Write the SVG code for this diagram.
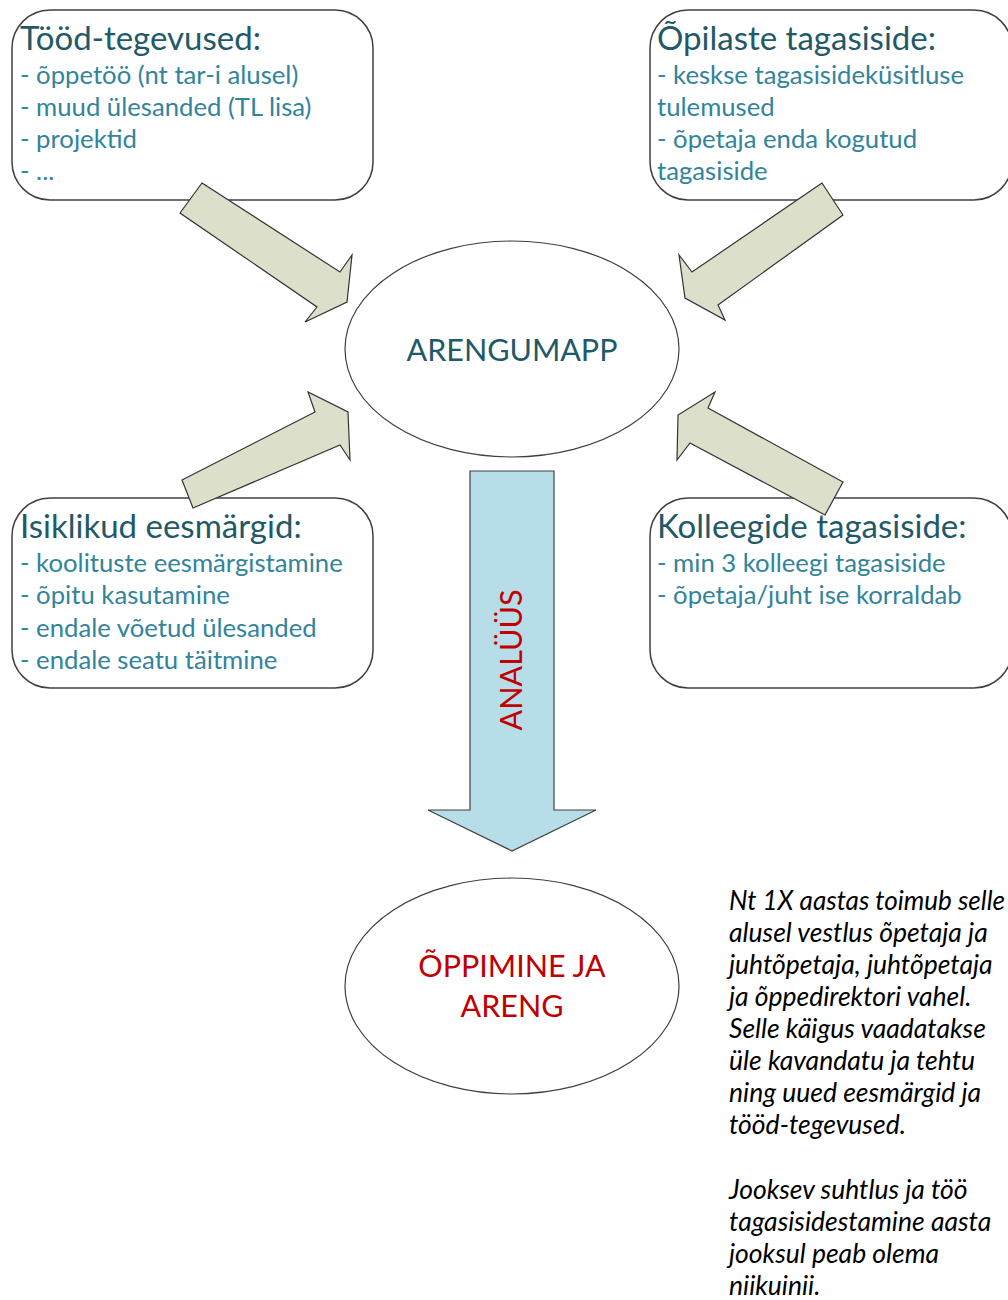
<svg xmlns="http://www.w3.org/2000/svg" width="1008" height="1300" viewBox="0 0 1008 1300">
<style>
.box{fill:#fff;stroke:#404040;stroke-width:1.5}
.ell{fill:#fff;stroke:#404040;stroke-width:1.2}
.title{font-family:Lato,"Open Sans",sans-serif;font-size:33px;fill:#215968}
.item{font-family:Lato,"Open Sans",sans-serif;font-size:25.7px;fill:#31849b}
.lbl{font-family:Lato,"Open Sans",sans-serif;font-size:30.5px}
.garrow{fill:#dcdfc9;stroke:#333;stroke-width:1.2;stroke-linejoin:miter}
.note{font-family:Lato,"Open Sans",sans-serif;font-size:26.5px;font-style:italic;fill:#000}
</style>
<rect width="1008" height="1300" fill="#fff"/>
<g id="node-toodtegevused">
<rect class="box" x="12" y="10" width="361" height="190" rx="38"/>
<text class="title" x="20" y="50">Tööd-tegevused:</text>
<text class="item" x="20" y="84">- õppetöö (nt tar-i alusel)</text>
<text class="item" x="20" y="116">- muud ülesanded (TL lisa)</text>
<text class="item" x="20" y="148">- projektid</text>
<text class="item" x="20" y="180">- ...</text>
</g>
<g id="node-opilaste">
<rect class="box" x="650" y="10" width="362" height="190" rx="38"/>
<text class="title" x="657" y="50">Õpilaste tagasiside:</text>
<text class="item" x="657" y="84">- keskse tagasisideküsitluse</text>
<text class="item" x="657" y="116">tulemused</text>
<text class="item" x="657" y="148">- õpetaja enda kogutud</text>
<text class="item" x="657" y="180">tagasiside</text>
</g>
<g id="node-isiklikud">
<rect class="box" x="12" y="498" width="361" height="190" rx="38"/>
<text class="title" x="20" y="538">Isiklikud eesmärgid:</text>
<text class="item" x="20" y="572">- koolituste eesmärgistamine</text>
<text class="item" x="20" y="604">- õpitu kasutamine</text>
<text class="item" x="20" y="637">- endale võetud ülesanded</text>
<text class="item" x="20" y="669">- endale seatu täitmine</text>
</g>
<g id="node-kolleegide">
<rect class="box" x="650" y="498" width="362" height="190" rx="38"/>
<text class="title" x="657" y="538">Kolleegide tagasiside:</text>
<text class="item" x="657" y="572">- min 3 kolleegi tagasiside</text>
<text class="item" x="657" y="604">- õpetaja/juht ise korraldab</text>
</g>
<g id="node-arengumapp">
<ellipse class="ell" cx="512" cy="349" rx="167" ry="108"/>
<text class="lbl" x="512" y="361" text-anchor="middle" fill="#215968">ARENGUMAPP</text>
</g>
<g id="node-oppimine">
<ellipse class="ell" cx="512" cy="986" rx="167" ry="108"/>
<text class="lbl" x="512" y="977" text-anchor="middle" fill="#c00000">ÕPPIMINE JA</text>
<text class="lbl" x="512" y="1017" text-anchor="middle" fill="#c00000">ARENG</text>
</g>
<g id="connectors">
<polygon class="garrow" points="202,183 340,272 352,255 347,302 305,322 317,307 180,213"/>
<polygon class="garrow" points="822,183 692,272 679,255 685,298 725,320 718,305 843,215"/>
<polygon class="garrow" points="182,480 315,412 308,392 348,412 350,460 340,445 193,508"/>
<polygon class="garrow" points="843,482 708,408 715,392 678,415 677,460 690,443 825,515"/>
<polygon points="470,471 554,471 554,810 596,810 512,851 428,810 470,810" fill="#b7dde8" stroke="#404040" stroke-width="1.2"/>
<text class="lbl" transform="translate(522,660) rotate(-90)" text-anchor="middle" fill="#c00000">ANALÜÜS</text>
</g>
<g id="note">
<text class="note" x="729" y="910" textLength="276" lengthAdjust="spacingAndGlyphs">Nt 1X aastas toimub selle</text>
<text class="note" x="729" y="942">alusel vestlus õpetaja ja</text>
<text class="note" x="729" y="974">juhtõpetaja, juhtõpetaja</text>
<text class="note" x="729" y="1006">ja õppedirektori vahel.</text>
<text class="note" x="729" y="1038">Selle käigus vaadatakse</text>
<text class="note" x="729" y="1070">üle kavandatu ja tehtu</text>
<text class="note" x="729" y="1102">ning uued eesmärgid ja</text>
<text class="note" x="729" y="1134">tööd-tegevused.</text>
<text class="note" x="729" y="1199">Jooksev suhtlus ja töö</text>
<text class="note" x="729" y="1231">tagasisidestamine aasta</text>
<text class="note" x="729" y="1263">jooksul peab olema</text>
<text class="note" x="729" y="1295">niikuinii.</text>
</g>
</svg>
